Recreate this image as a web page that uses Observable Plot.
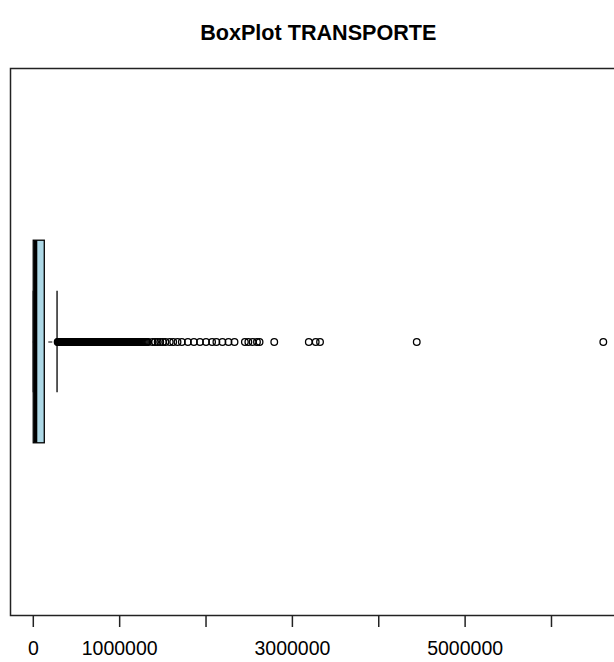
<!DOCTYPE html>
<html>
<head>
<meta charset="utf-8">
<script src="https://cdn.jsdelivr.net/npm/d3@7"></script>
<script src="https://cdn.jsdelivr.net/npm/@observablehq/plot@0.6"></script>
<style>
  html, body { margin: 0; padding: 0; background: white; overflow: hidden; }
  #chart svg { overflow: hidden; }
</style>
</head>
<body>
<div id="chart"></div>
<script>
// ---- data ----
const chartTitle = "BoxPlot TRANSPORTE";
const groups = [1];
const lowerWhisker = [0];
const q1 = [5000];
const median = [26000];
const q3 = [133000];
const upperWhisker = [275000];
const outliers = [
  282000, 288000, 294000, 300000, 306000, 312000, 318000, 325000, 331000, 338000,
  345000, 352000, 361000, 367000, 373000, 379000, 385000, 392000, 398000, 404000,
  410000, 416000, 421000, 428000, 435000, 441000, 448000, 454000, 460000, 468000,
  476000, 483000, 490000, 497000, 503000, 510000, 517000, 523000, 530000, 538000,
  546000, 553000, 560000, 567000, 574000, 582000, 590000, 597000, 604000, 611000,
  618000, 626000, 633000, 640000, 648000, 655000, 662000, 670000, 679000, 687000,
  695000, 702000, 710000, 718000, 726000, 733000, 740000, 748000, 757000, 765000,
  772000, 781000, 790000, 798000, 806000, 814000, 822000, 831000, 840000, 849000,
  858000, 866000, 875000, 884000, 893000, 901000, 910000, 919000, 928000, 937000,
  946000, 955000, 965000, 975000, 984000, 993000, 1002000, 1011000, 1020000, 1031000,
  1041000, 1050000, 1060000, 1070000, 1080000, 1090000, 1100000, 1111000, 1122000, 1132000,
  1143000, 1154000, 1165000, 1176000, 1187000, 1198000, 1210000, 1221000, 1232000, 1244000,
  1256000, 1268000, 1280000, 1292000, 1305000, 1318000, 1330000,
  1380000, 1410000, 1440000, 1470000, 1500000, 1530000, 1580000, 1620000, 1670000,
  1720000, 1790000, 1860000, 1930000, 2000000, 2070000, 2120000, 2190000, 2260000, 2330000,
  2450000, 2490000, 2540000, 2590000, 2620000, 2790000,
  3190000, 3270000, 3320000, 4440000, 6600000
];
const tickValues = [0, 1000000, 2000000, 3000000, 4000000, 5000000, 6000000];
const tickLabels = ["0", "1000000", "", "3000000", "", "5000000", ""];

// ---- build ----
const stats = groups.map((g, i) => ({
  g, lo: lowerWhisker[i], q1: q1[i], med: median[i], q3: q3[i], hi: upperWhisker[i]
}));
const outData = outliers.map(v => ({g: 1, v}));

const boxHalf = 0.2, stapleHalf = 0.1;
const xmin = d3.min([...lowerWhisker, ...outliers]);
const xmax = d3.max([...upperWhisker, ...outliers]);
const xpad = 0.04 * (xmax - xmin);
const font = "'Liberation Sans', Arial, sans-serif";

const chart = Plot.plot({
  width: 614,
  height: 662,
  marginLeft: 10,
  marginRight: -11.6,
  marginTop: 68,
  marginBottom: 47,
  style: {fontFamily: font, background: "white", color: "black"},
  x: {domain: [xmin - xpad, xmax + xpad], label: null},
  y: {domain: [0.46, 1.54], axis: null},
  marks: [
    Plot.frame({stroke: "#222", strokeWidth: 1.5}),
    // whiskers (dashed)
    Plot.ruleY(stats, {y: "g", x1: "q3", x2: "hi", stroke: "black", strokeWidth: 1.2, strokeDasharray: "4,4", strokeDashoffset: 4}),
    Plot.ruleY(stats, {y: "g", x1: "lo", x2: "q1", stroke: "black", strokeDasharray: "4,4"}),
    // staples
    Plot.ruleX(stats, {x: "hi", y1: d => d.g - stapleHalf, y2: d => d.g + stapleHalf, stroke: "black", strokeWidth: 1.3}),
    Plot.ruleX(stats, {x: "lo", y1: d => d.g - stapleHalf, y2: d => d.g + stapleHalf, stroke: "black", strokeWidth: 1.3}),
    // box
    Plot.rect(stats, {x1: "q1", x2: "q3", y1: d => d.g - boxHalf, y2: d => d.g + boxHalf, fill: "#ADD8E6", stroke: "black", strokeWidth: 1.3}),
    // median
    Plot.ruleX(stats, {x: "med", y1: d => d.g - boxHalf, y2: d => d.g + boxHalf, stroke: "black", strokeWidth: 3.5}),
    // outliers
    Plot.dot(outData, {x: "v", y: "g", r: 3.3, stroke: "black", strokeWidth: 1.3, fill: "none"}),
    // axis
    Plot.axisX({
      ticks: tickValues,
      tickSize: 12,
      tickPadding: 14,
      tickFormat: d => tickLabels[tickValues.indexOf(d)],
      fontSize: 19.5,
      stroke: "#222",
      strokeWidth: 1.5,
      fill: "black"
    }),
    // title
    Plot.text([chartTitle], {
      frameAnchor: "top",
      dy: -44,
      text: d => d,
      fontSize: 21.6,
      fontWeight: "bold",
      fill: "black",
      fontFamily: font
    })
  ]
});
document.getElementById("chart").appendChild(chart);
</script>
</body>
</html>
